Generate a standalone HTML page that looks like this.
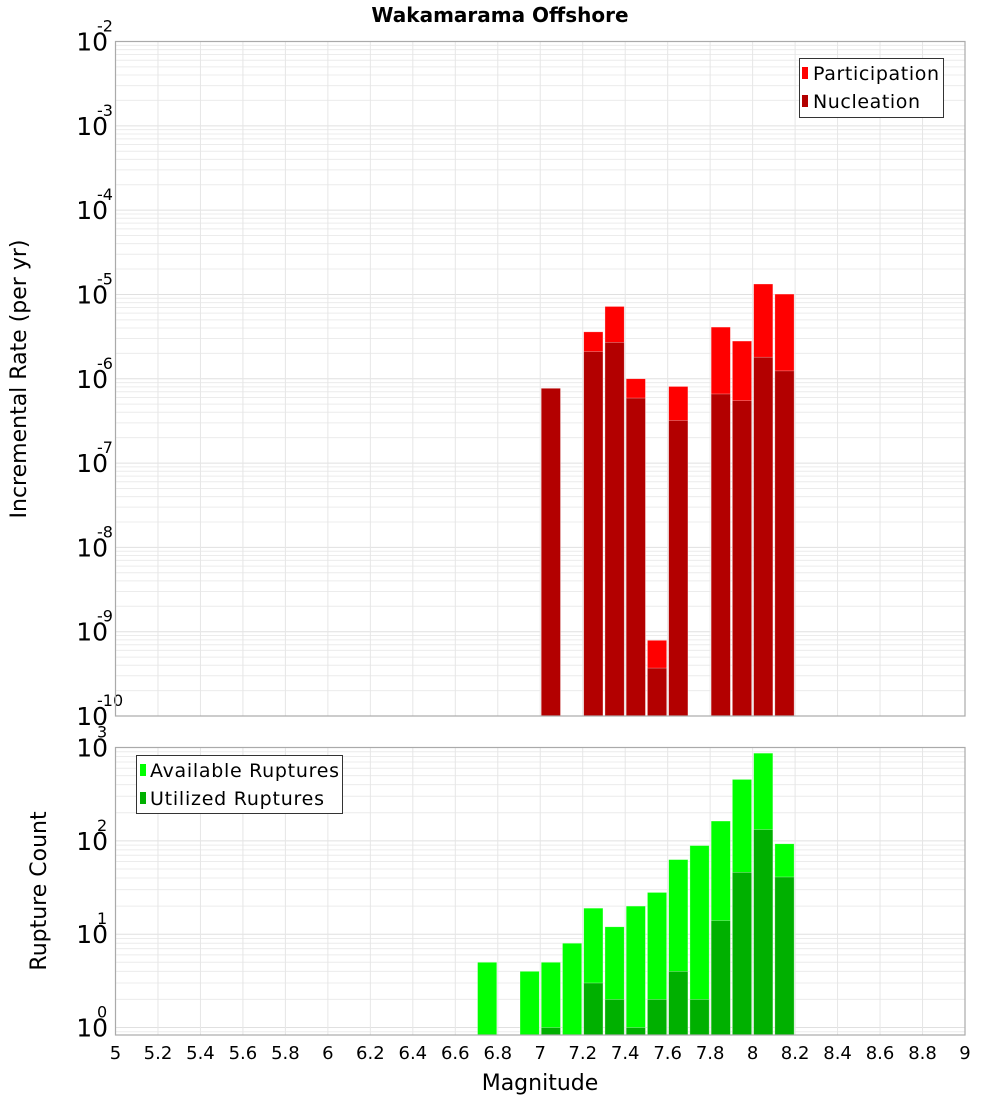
<!DOCTYPE html>
<html><head><meta charset="utf-8"><style>
html,body{margin:0;padding:0;background:#fff;}
svg{display:block;font-family:"DejaVu Sans","Liberation Sans",sans-serif;}
</style></head><body>
<svg id="chart" width="1000" height="1100" viewBox="0 0 1000 1100">
<text x="500" y="22" text-anchor="middle" font-size="20" font-weight="bold">Wakamarama Offshore</text>
<g id="gtop"></g>
<g id="gbot"></g>
<text transform="translate(26,379) rotate(-90)" text-anchor="middle" font-size="22">Incremental Rate (per yr)</text>
<text transform="translate(46,891) rotate(-90)" text-anchor="middle" font-size="22">Rupture Count</text>
<text x="540" y="1090" text-anchor="middle" font-size="22">Magnitude</text>
<g>
<rect x="799.5" y="58.5" width="144" height="59" fill="#fff" stroke="#333" stroke-width="1"/>
<rect x="802" y="67" width="6" height="12" fill="#ff0000"/>
<text x="813" y="80" font-size="19" textLength="126">Participation</text>
<rect x="802" y="95" width="6" height="12" fill="#b30000"/>
<text x="813" y="108" font-size="19" textLength="107">Nucleation</text>
</g>
<g>
<rect x="136.5" y="755.5" width="206" height="58" fill="#fff" stroke="#333" stroke-width="1"/>
<rect x="140" y="764" width="6" height="12" fill="#00ff00"/>
<text x="150" y="777" font-size="19" textLength="189">Available Ruptures</text>
<rect x="140" y="792" width="6" height="12" fill="#00b000"/>
<text x="150" y="805" font-size="19" textLength="174">Utilized Ruptures</text>
</g>
</svg>
<script>
const rateMags = [7.0, 7.2, 7.3, 7.4, 7.5, 7.6, 7.8, 7.9, 8.0, 8.1];
const participation = [7.7e-7, 3.6e-6, 7.2e-6, 1.0e-6, 7.9e-10, 8.1e-7, 4.1e-6, 2.8e-6, 1.33e-5, 1.01e-5];
const nucleation = [7.7e-7, 2.1e-6, 2.7e-6, 5.9e-7, 3.7e-10, 3.2e-7, 6.6e-7, 5.5e-7, 1.8e-6, 1.24e-6];
const countMags = [6.7, 6.9, 7.0, 7.1, 7.2, 7.3, 7.4, 7.5, 7.6, 7.7, 7.8, 7.9, 8.0, 8.1];
const available = [5, 4, 5, 8, 19, 12, 20, 28, 63, 89, 163, 455, 870, 93];
const utilized = [0, 0, 1, 0, 3, 2, 1, 2, 4, 2, 14, 46, 132, 41];
const xTicks = [5,5.2,5.4,5.6,5.8,6,6.2,6.4,6.6,6.8,7,7.2,7.4,7.6,7.8,8,8.2,8.4,8.6,8.8,9];
const rateExps = [-2,-3,-4,-5,-6,-7,-8,-9,-10];
const countExps = [3,2,1,0];

const NS = "http://www.w3.org/2000/svg";
const X0 = 115.5, X1 = 965, XMIN = 5, XMAX = 9;
const xs = m => X0 + (m - XMIN) / (XMAX - XMIN) * (X1 - X0);
const PT = {top:41.5, bot:716, lmax:-2, lmin:-10};
const PB = {top:747.5, bot:1035, lmax:3, lmin:-0.08};
function ys(p, v){ const l = Math.log10(v); return p.top + (p.lmax - l) / (p.lmax - p.lmin) * (p.bot - p.top); }
function mk(parent, tag, attrs){ const e = document.createElementNS(NS, tag); for (const k in attrs) e.setAttribute(k, attrs[k]); parent.appendChild(e); return e; }

function panel(g, p, exps, nameP){
  mk(g,'rect',{x:X0,y:p.top,width:X1-X0,height:p.bot-p.top,fill:'#fff'});
  for (let e = Math.floor(p.lmin); e <= p.lmax; e++){
    for (let k = 1; k <= 9; k++){
      const l = e + Math.log10(k);
      if (l < p.lmin || l > p.lmax) continue;
      const y = ys(p, Math.pow(10,l));
      const ln = mk(g,'line',{x1:X0,x2:X1,y1:y,y2:y,stroke: k===1?'#e0e0e0':'#ececec','stroke-width':1});
      
      
    }
  }
  xTicks.forEach(t => {
    const x = xs(t);
    const ln = mk(g,'line',{x1:x,x2:x,y1:p.top,y2:p.bot,stroke:'#e6e6e6','stroke-width':1});
    
    
  });
  exps.forEach(e => {
    const y = ys(p, Math.pow(10,e));
    const t = mk(g,'text',{x:108,y:y+9,'text-anchor':'end','font-size':25});
    
    
    t.textContent = '10';
    const s = mk(g,'text',{x:97,y:y-10,'font-size':16});
    
    
    s.textContent = String(e);
  });
}
const gTop = document.getElementById('gtop'), gBot = document.getElementById('gbot');
panel(gTop, PT, rateExps, 'rate');
panel(gBot, PB, countExps, 'count');

function bars(g, p, mags, vals, color, name){
  mags.forEach((m,i) => {
    const v = vals[i]; if (!(v > 0)) return;
    const x = xs(m) + 1, w = xs(m + 0.1) - xs(m) - 2;
    const y = ys(p, v);
    const r = mk(g,'rect',{x:x,y:y,width:w,height:p.bot-y,fill:color,stroke:'rgba(255,255,255,0.5)','stroke-width':0.6});
    
    
  });
}
bars(gTop, PT, rateMags, participation, '#ff0000', 'participation');
bars(gTop, PT, rateMags, nucleation, '#b30000', 'nucleation');
bars(gBot, PB, countMags, available, '#00ff00', 'available');
bars(gBot, PB, countMags, utilized, '#00b000', 'utilized');

[PT,PB].forEach((p,i) => {
  const r = mk(i?gBot:gTop,'rect',{x:X0,y:p.top,width:X1-X0,height:p.bot-p.top,fill:'none',stroke:'#aaaaaa','stroke-width':1.2});
  
  
});
xTicks.forEach(t => {
  const tx = mk(gBot,'text',{x:xs(t),y:1059,'text-anchor':'middle','font-size':18});
  
  
  tx.textContent = String(t);
});
</script>
</body></html>
